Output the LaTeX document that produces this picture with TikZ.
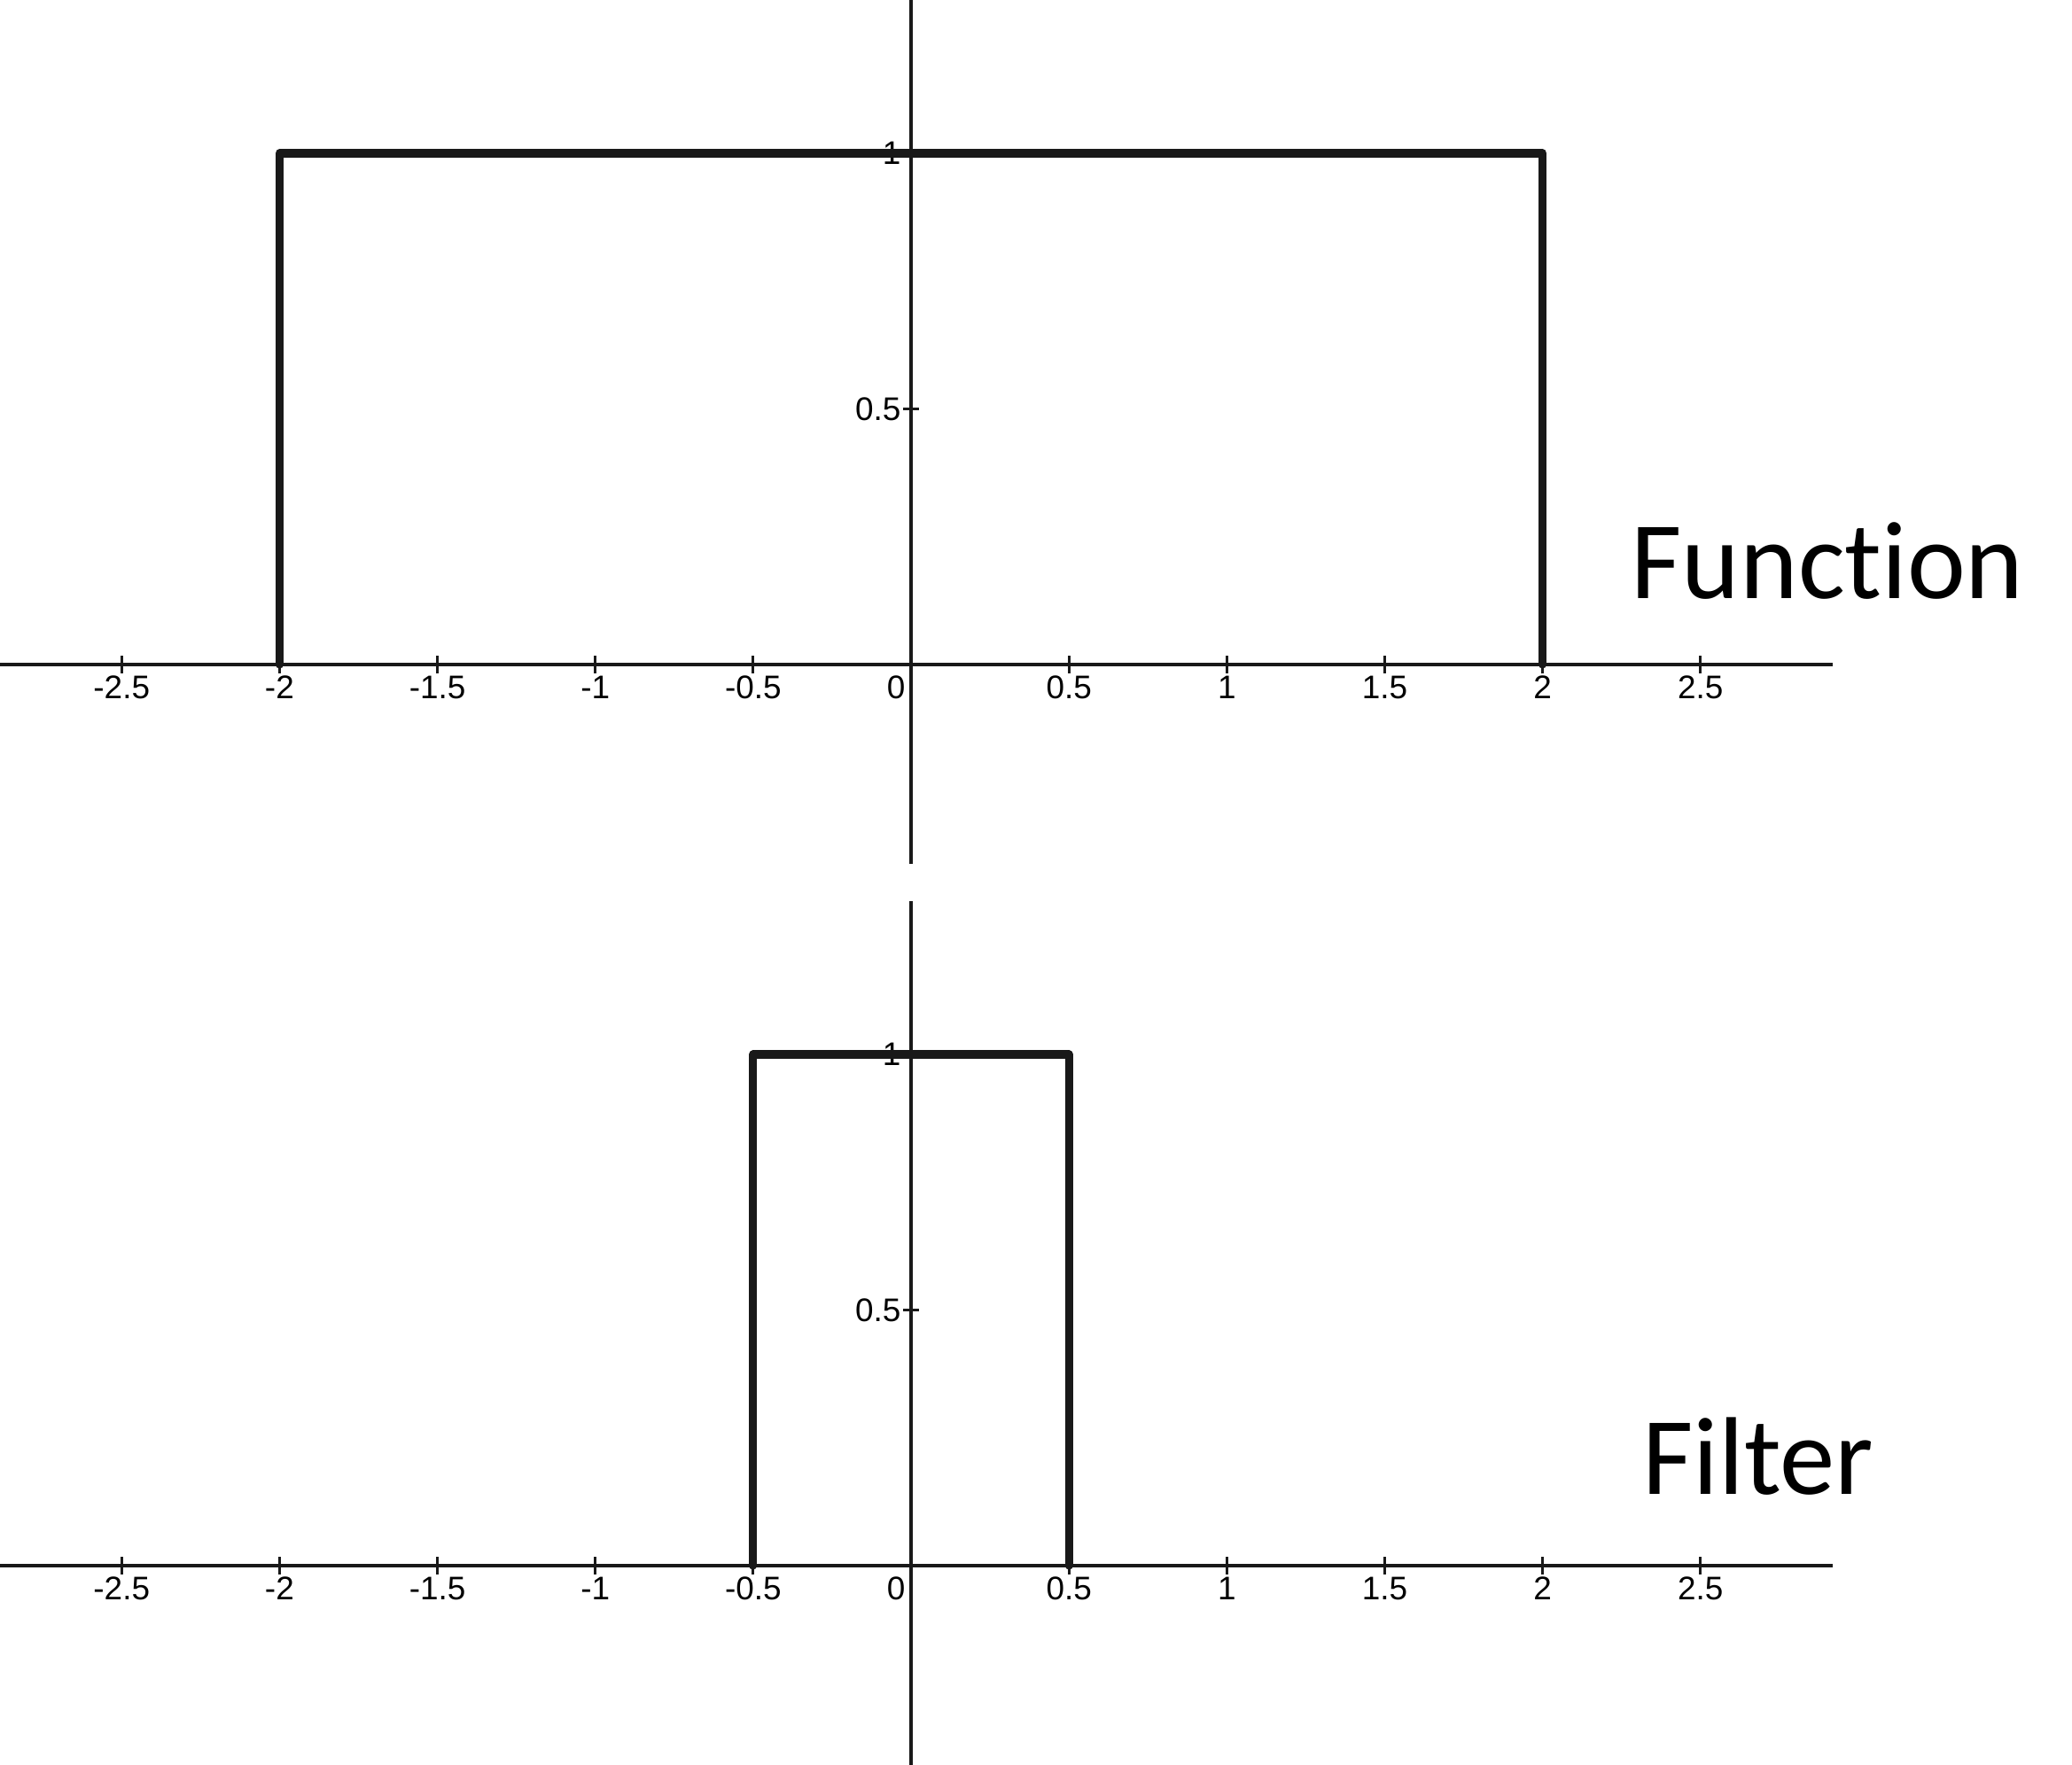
\documentclass[tikz,border=0pt]{standalone}
\usepackage{fontspec}
\setmainfont{Liberation Sans}
\newfontfamily\titlefont[Ligatures=NoCommon]{Carlito}

\tikzset{
  axis/.style={line width=1pt, black!90},
  tickmark/.style={line width=0.8pt, black!90},
  pulse/.style={line width=2.6pt, black!90, line join=round, line cap=round},
  ticklabel/.style={inner sep=0pt, font=\fontsize{10.5}{12}\selectfont},
  plotname/.style={inner sep=0pt, font=\titlefont\fontsize{35.5}{40}\selectfont}
}

\begin{document}
\begin{tikzpicture}[x=3.563cm, y=5.77cm]
  \useasboundingbox (0cm,0cm) rectangle (23.38cm,-19.92cm);
  \foreach \oy/\w/\lbl/\lx/\ly [count=\k] in {-7.50/2/Function/8.12/0.75, -17.67/0.5/Filter/8.25/0.81} {
    \begin{scope}[shift={(10.28cm,\oy cm)}]
      \coordinate (o\k) at (0,0);
      \draw[axis] (-2.885,0) -- (2.919,0);
      \draw[axis] (0,-0.39) -- (0,1.30);
      \foreach \t [count=\i] in {-2.5,-2,-1.5,-1,-0.5,0.5,1,1.5,2,2.5} {
        \draw[tickmark] (\t,0) ++(0,-0.1cm) -- ++(0,0.2cm);
        \node[ticklabel, anchor=north] (x\k-\i) at ([yshift=-0.12cm]\t,0) {\t};
      }
      \node[ticklabel, anchor=north east] (zero\k) at ([xshift=-0.06cm, yshift=-0.12cm]o\k) {0};
      \foreach \t [count=\i] in {0.5,1} {
        \draw[tickmark] (0,\t) ++(-0.09cm,0) -- ++(0.18cm,0);
        \node[ticklabel, anchor=east] (y\k-\i) at ([xshift=-0.11cm]0,\t) {\t};
      }
      % rectangular pulse
      \draw[pulse] (-\w,0) -- (-\w,1) -- (\w,1) -- (\w,0);
      \node[plotname, anchor=base west] (name\k) at (\lx cm,\ly cm) {\lbl};
    \end{scope}
  }
\end{tikzpicture}
\end{document}
